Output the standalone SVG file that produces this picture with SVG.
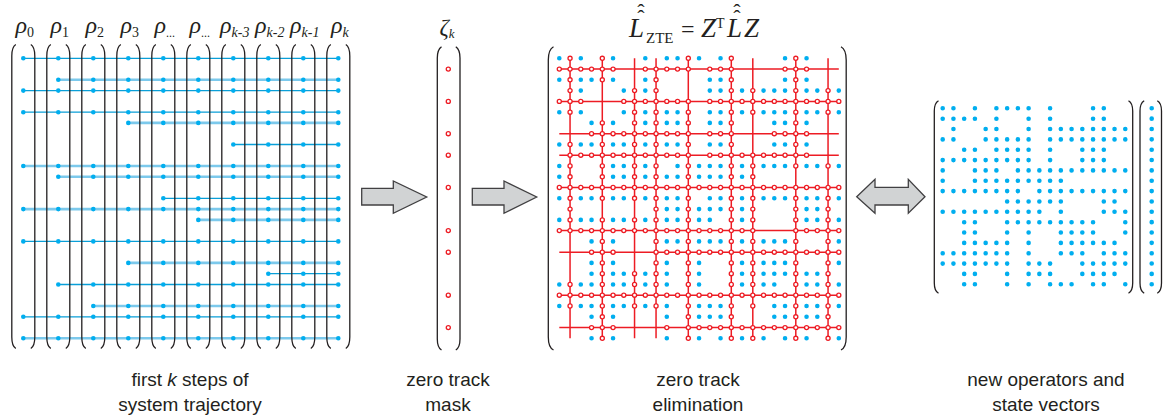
<svg xmlns="http://www.w3.org/2000/svg" width="1163" height="417" viewBox="0 0 1163 417">
<style>
.pa{fill:none;stroke:#231f20;stroke-width:1.3}
.ld{fill:none;stroke:#0a9fd8;stroke-width:1.3}
.ll{fill:none;stroke:#7cc9ec;stroke-width:2.6}
.dL{fill:none;stroke:#00aeef;stroke-width:4.6;stroke-linecap:round;stroke-dasharray:0 35}
.dM{fill:none;stroke:#00aeef;stroke-width:4.6;stroke-linecap:round;stroke-dasharray:0 10.75}
.dR{fill:none;stroke:#00aeef;stroke-width:4.6;stroke-linecap:round;stroke-dasharray:0 10.74}
.dV{fill:none;stroke:#00aeef;stroke-width:4.6;stroke-linecap:round;stroke-dasharray:0 10.35}
.rl{fill:none;stroke:#ed1c24;stroke-width:1.5}
.ro{fill:none;stroke:#ed1c24;stroke-width:5.4;stroke-linecap:round;stroke-dasharray:0 10.75}
.ri{fill:none;stroke:#fff;stroke-width:2.8;stroke-linecap:round;stroke-dasharray:0 10.75}
.ar{fill:#d1d3d4;stroke:#414042;stroke-width:1.3}
.m{font-family:"Liberation Serif","Times New Roman",serif;fill:#231f20}
.lab{font-family:"Liberation Sans",Arial,sans-serif;font-size:19px;fill:#231f20;text-anchor:middle}
</style>
<defs>
<path id="cb" class="pa" d="M-7.5 44.5Q-11.5 47 -11.5 56V337Q-11.5 346 -7.5 348.5M7.5 44.5Q11.5 47 11.5 56V337Q11.5 346 7.5 348.5"/>
<path id="rp" d="M570.05 58.3h.2M602.3 58.3h.2M688.3 58.3h.2M731.3 58.3h.2M795.8 58.3h.2
M559.3 69.1H613.3M645.3 69.1H688.5M709.8 69.1H731.5M785.05 69.1H806.8
M570.05 79.8h.2M602.3 79.8h.2M656.05 79.8h.2M731.3 79.8h.2M795.8 79.8h.2
M570.05 90.6h.2M634.55 90.6h.2M656.05 90.6h.2M731.3 90.6h.2M752.8 90.6h.2M795.8 90.6h.2M828.05 90.6h.2
M559.3 101.4H581M623.8 101.4H688.5M709.8 101.4H839
M570.05 112.2h.2M634.55 112.2h.2M656.05 112.2h.2M688.3 112.2h.2M731.3 112.2h.2M752.8 112.2h.2M795.8 112.2h.2M828.05 112.2h.2
M602.3 122.9h.2M634.55 122.9h.2M656.05 122.9h.2M688.3 122.9h.2M731.3 122.9h.2M795.8 122.9h.2
M591.55 133.7H688.5M709.8 133.7H731.5M774.3 133.7H806.8
M570.05 144.5h.2M602.3 144.5h.2M634.55 144.5h.2M656.05 144.5h.2M688.3 144.5h.2M731.3 144.5h.2M795.8 144.5h.2
M570.05 155.2H688.5M709.8 155.2H806.8
M570.05 166h.2M602.3 166h.2M634.55 166h.2M656.05 166h.2M688.3 166h.2M731.3 166h.2M752.8 166h.2M795.8 166h.2M828.05 166h.2
M570.05 176.8h.2M602.3 176.8h.2M634.55 176.8h.2M656.05 176.8h.2M688.3 176.8h.2M731.3 176.8h.2M752.8 176.8h.2
M559.3 187.5H839
M570.05 198.3h.2M602.3 198.3h.2M634.55 198.3h.2M656.05 198.3h.2M688.3 198.3h.2M731.3 198.3h.2M752.8 198.3h.2M795.8 198.3h.2M828.05 198.3h.2
M570.05 209.1h.2M656.05 209.1h.2M688.3 209.1h.2M731.3 209.1h.2M752.8 209.1h.2M795.8 209.1h.2M828.05 209.1h.2
M570.05 219.9h.2M602.3 219.9h.2M634.55 219.9h.2M656.05 219.9h.2M688.3 219.9h.2M731.3 219.9h.2M752.8 219.9h.2M795.8 219.9h.2M828.05 219.9h.2
M559.3 230.6H753M795.8 230.6H839
M602.3 241.4h.2M656.05 241.4h.2M688.3 241.4h.2M731.3 241.4h.2M752.8 241.4h.2M795.8 241.4h.2M828.05 241.4h.2
M591.55 252.2H613.3M656.05 252.2H839
M602.3 262.9h.2M656.05 262.9h.2M688.3 262.9h.2M731.3 262.9h.2M752.8 262.9h.2M795.8 262.9h.2M828.05 262.9h.2
M602.3 273.7h.2M634.55 273.7h.2M656.05 273.7h.2M688.3 273.7h.2M731.3 273.7h.2M752.8 273.7h.2M795.8 273.7h.2M828.05 273.7h.2
M570.05 284.5h.2M602.3 284.5h.2M634.55 284.5h.2M656.05 284.5h.2M688.3 284.5h.2M731.3 284.5h.2M752.8 284.5h.2M795.8 284.5h.2M828.05 284.5h.2
M559.3 295.2H839
M570.05 306h.2M602.3 306h.2M634.55 306h.2M656.05 306h.2M688.3 306h.2M731.3 306h.2M752.8 306h.2M795.8 306h.2M828.05 306h.2
M602.3 316.8h.2M688.3 316.8h.2M731.3 316.8h.2M795.8 316.8h.2M828.05 316.8h.2
M591.55 327.6H613.3M666.8 327.6h.2M688.3 327.6H839
M602.3 338.3h.2M688.3 338.3h.2M731.3 338.3h.2M752.8 338.3h.2M795.8 338.3h.2M828.05 338.3h.2"/>
<path id="zp" d="M448.3 69.1h.2M448.3 101.4h.2M448.3 133.7h.2M448.3 155.2h.2M448.3 187.5h.2M448.3 230.6h.2M448.3 252.2h.2M448.3 295.2h.2M448.3 327.6h.2"/>
</defs>
<rect width="1163" height="417" fill="#fff"/>

<g id="trajectory">
<path class="ld" d="M23.3 58.3H338.3M23.3 90.6H338.3M23.3 112.2H338.3M233.3 144.5H338.3M163.3 198.3H338.3M23.3 241.4H338.3M268.3 273.7H338.3M58.3 284.5H338.3M23.3 316.8H338.3"/>
<path class="ll" d="M58.3 79.8H338.3M128.3 122.9H338.3M23.3 166H338.3M58.3 176.8H338.3M23.3 209.1H338.3M198.3 219.9H338.3M128.3 262.9H338.3M93.3 306H338.3M23.3 338.3H338.3"/>
<use href="#cb" x="23.3"/><use href="#cb" x="58.3"/><use href="#cb" x="93.3"/><use href="#cb" x="128.3"/><use href="#cb" x="163.3"/><use href="#cb" x="198.3"/><use href="#cb" x="233.3"/><use href="#cb" x="268.3"/><use href="#cb" x="303.3"/><use href="#cb" x="338.3"/>
<path class="dL" d="M23.3 58.3H338.5M58.3 79.8H338.5M23.3 90.6H338.5M23.3 112.2H338.5M128.3 122.9H338.5M233.3 144.5H338.5M23.3 166H338.5M58.3 176.8H338.5M163.3 198.3H338.5M23.3 209.1H338.5M198.3 219.9H338.5M23.3 241.4H338.5M128.3 262.9H338.5M268.3 273.7H338.5M58.3 284.5H338.5M93.3 306H338.5M23.3 316.8H338.5M23.3 338.3H338.5"/>
<g class="m" font-size="24" text-anchor="middle">
<text x="24.8" y="33"><tspan font-style="italic">ρ</tspan><tspan font-size="14" dy="4">0</tspan></text>
<text x="59.8" y="33"><tspan font-style="italic">ρ</tspan><tspan font-size="14" dy="4">1</tspan></text>
<text x="94.8" y="33"><tspan font-style="italic">ρ</tspan><tspan font-size="14" dy="4">2</tspan></text>
<text x="129.8" y="33"><tspan font-style="italic">ρ</tspan><tspan font-size="14" dy="4">3</tspan></text>
<text x="164.8" y="33"><tspan font-style="italic">ρ</tspan><tspan font-size="12" dy="4">...</tspan></text>
<text x="199.8" y="33"><tspan font-style="italic">ρ</tspan><tspan font-size="12" dy="4">...</tspan></text>
<text x="234.8" y="33"><tspan font-style="italic">ρ</tspan><tspan font-size="14" dy="4" font-style="italic">k-3</tspan></text>
<text x="269.8" y="33"><tspan font-style="italic">ρ</tspan><tspan font-size="14" dy="4" font-style="italic">k-2</tspan></text>
<text x="304.8" y="33"><tspan font-style="italic">ρ</tspan><tspan font-size="14" dy="4" font-style="italic">k-1</tspan></text>
<text x="339.8" y="33"><tspan font-style="italic">ρ</tspan><tspan font-size="14" dy="4" font-style="italic">k</tspan></text>
</g>
</g>

<g id="mask">
<path class="pa" d="M441.5 46.7Q437.3 49.5 437.3 58V339Q437.3 347.5 441.5 350M455.8 46.7Q460 49.5 460 58V339Q460 347.5 455.8 350"/>
<use href="#zp" class="ro"/><use href="#zp" class="ri"/>
<text class="m" x="447" y="35" font-size="23" text-anchor="middle"><tspan font-style="italic">ζ</tspan><tspan font-size="13" dy="3" font-style="italic">k</tspan></text>
</g>

<g id="zte">
<path class="pa" d="M553.5 46.7Q548.3 49.5 548.3 60V337Q548.3 347.5 553.5 350M841 46.7Q846.2 49.5 846.2 60V337Q846.2 347.5 841 350"/>
<path class="rl" d="M559.3 69.1H838.8M559.3 101.4H838.8M559.3 133.7H838.8M559.3 155.2H838.8M559.3 187.5H838.8M559.3 230.6H838.8M559.3 252.2H838.8M559.3 295.2H838.8M559.3 327.6H838.8M570.05 58.3V338.3M602.3 58.3V338.3M634.55 58.3V338.3M656.05 58.3V338.3M688.3 58.3V338.3M731.3 58.3V338.3M752.8 58.3V338.3M795.8 58.3V338.3M828.05 58.3V338.3"/>
<path class="dM" d="M559.3 58.3h.2M580.8 58.3h.2M613.05 58.3h.2M645.3 58.3h.2M666.8 58.3H677.8M699.05 58.3h.2M720.55 58.3h.2M785.05 58.3h.2M806.55 58.3h.2
M559.3 79.8h.2M580.8 79.8H591.8M613.05 79.8h.2M645.3 79.8h.2M709.8 79.8H720.8M785.05 79.8h.2M806.55 79.8h.2
M580.8 90.6h.2M623.8 90.6h.2M645.3 90.6h.2M709.8 90.6H720.8M742.05 90.6h.2M763.55 90.6H785.3M806.55 90.6H817.5M838.8 90.6h.2
M559.3 112.2h.2M580.8 112.2h.2M623.8 112.2h.2M645.3 112.2h.2M666.8 112.2H677.8M709.8 112.2H720.8M742.05 112.2h.2M763.55 112.2H785.3M806.55 112.2H817.5M838.8 112.2h.2
M591.55 122.9h.2M613.05 122.9h.2M645.3 122.9h.2M666.8 122.9H677.8M709.8 122.9H720.8M774.3 122.9H785.3M806.55 122.9h.2
M559.3 144.5h.2M580.8 144.5H591.8M613.05 144.5H624M645.3 144.5h.2M666.8 144.5H677.8M709.8 144.5H720.8M774.3 144.5H785.3M806.55 144.5h.2
M559.3 166h.2M613.05 166H624M645.3 166h.2M677.55 166h.2M699.05 166H720.8M742.05 166h.2M763.55 166H785.3M806.55 166H817.5M838.8 166h.2
M559.3 176.8h.2M613.05 176.8H624M645.3 176.8h.2M666.8 176.8H677.8M699.05 176.8H720.8M742.05 176.8h.2
M559.3 198.3h.2M580.8 198.3H591.8M613.05 198.3H624M645.3 198.3h.2M666.8 198.3H677.8M709.8 198.3H720.8M742.05 198.3h.2M763.55 198.3H785.3M806.55 198.3H817.5M838.8 198.3h.2
M666.8 209.1H677.8M699.05 209.1H720.8M742.05 209.1h.2M806.55 209.1H817.5
M559.3 219.9h.2M580.8 219.9H591.8M613.05 219.9H624M645.3 219.9h.2M666.8 219.9H677.8M699.05 219.9H710M742.05 219.9h.2M806.55 219.9H817.5M838.8 219.9h.2
M591.55 241.4h.2M613.05 241.4h.2M666.8 241.4H677.8M699.05 241.4H720.8M742.05 241.4h.2M763.55 241.4H785.3M838.8 241.4h.2
M591.55 262.9h.2M613.05 262.9h.2M666.8 262.9h.2M699.05 262.9h.2M742.05 262.9h.2M763.55 262.9H785.3M838.8 262.9h.2
M591.55 273.7h.2M613.05 273.7H624M645.3 273.7h.2M666.8 273.7h.2M699.05 273.7h.2M742.05 273.7h.2M763.55 273.7H785.3M806.55 273.7H817.5
M559.3 284.5h.2M580.8 284.5H591.8M613.05 284.5H624M645.3 284.5h.2M666.8 284.5h.2M699.05 284.5h.2M742.05 284.5h.2M763.55 284.5H774.5M806.55 284.5H817.5M838.8 284.5h.2
M559.3 306h.2M580.8 306H591.8M613.05 306H624M645.3 306h.2M666.8 306h.2M699.05 306H720.8M774.3 306H785.3M806.55 306H817.5M838.8 306h.2
M591.55 316.8h.2M613.05 316.8h.2M666.8 316.8h.2M699.05 316.8H720.8M774.3 316.8H785.3M806.55 316.8H817.5
M591.55 338.3h.2M613.05 338.3h.2M666.8 338.3h.2M699.05 338.3h.2M720.55 338.3h.2M742.05 338.3h.2M763.55 338.3h.2M785.05 338.3h.2M806.55 338.3h.2M838.8 338.3h.2"/>
<use href="#rp" class="ro"/><use href="#rp" class="ri"/>
<text class="m" y="37" font-size="27"><tspan x="641" y="19" font-size="22" text-anchor="middle">ˆ</tspan><tspan x="641" y="25" font-size="22" text-anchor="middle">ˆ</tspan><tspan x="737" y="19" font-size="22" text-anchor="middle">ˆ</tspan><tspan x="737" y="25" font-size="22" text-anchor="middle">ˆ</tspan><tspan x="629" y="37" font-style="italic">L</tspan><tspan x="646" y="43" font-size="15">ZTE</tspan><tspan x="681" y="37" font-size="24">=</tspan><tspan x="701" y="37" font-style="italic">Z</tspan><tspan x="716" y="28" font-size="14">T</tspan><tspan x="727" y="37" font-style="italic">L</tspan><tspan x="744" y="37" font-style="italic">Z</tspan></text>
</g>

<g id="reduced">
<path class="pa" d="M938.5 100.7Q934.3 103 934.3 111V283Q934.3 291 938.5 293.3M1128.5 100.7Q1132.7 103 1132.7 111V283Q1132.7 291 1128.5 293.3"/>
<path class="dR" d="M942.7 108.3H953.6M974.92 108.3h.2M996.4 108.3H1028.8M1050.1 108.3h.2M1093.06 108.3H1104
M942.7 118.7H975.1M996.4 118.7h.2M1028.62 118.7h.2M1050.1 118.7h.2M1093.06 118.7H1104
M953.44 129h.2M985.66 129H996.6M1028.62 129h.2M1050.1 129H1125.5
M942.7 139.4H953.6M985.66 139.4H1028.8M1050.1 139.4H1125.5
M964.18 149.7H975.1M996.4 149.7H1028.8M1050.1 149.7h.2M1082.32 149.7H1104
M942.7 160.1H1028.8M1050.1 160.1h.2M1082.32 160.1H1104
M942.7 170.4h.2M974.92 170.4H996.6M1017.88 170.4H1125.5
M942.7 180.8h.2M974.92 180.8H1061
M942.7 191.1H1018.1M1039.36 191.1H1125.5
M1007.14 201.5H1061M1103.8 201.5H1114.7
M942.7 211.8H1039.6M1060.84 211.8h.2M1103.8 211.8H1125.5
M964.18 222.2H975.1M1007.14 222.2H1093.3M1125.28 222.2h.2
M964.18 232.5H975.1M1007.14 232.5h.2M1028.62 232.5h.2M1060.84 232.5H1093.3M1125.28 232.5h.2
M964.18 242.9H1007.3M1028.62 242.9h.2M1060.84 242.9H1114.7
M942.7 253.2H1007.3M1028.62 253.2h.2M1060.84 253.2H1082.5M1103.8 253.2H1125.5
M942.7 263.6H1007.3M1028.62 263.6H1050.3M1082.32 263.6H1125.5
M964.18 273.9H975.1M1007.14 273.9h.2M1028.62 273.9H1050.3M1082.32 273.9H1114.7
M964.18 284.3H975.1M1007.14 284.3h.2M1028.62 284.3h.2M1050.1 284.3H1071.8M1093.06 284.3H1104M1125.28 284.3h.2"/>
</g>

<g id="state-vector">
<path class="pa" d="M1144.2 100.7Q1140 103 1140 111V283Q1140 291 1144.2 293.3M1157.3 100.7Q1161.5 103 1161.5 111V283Q1161.5 291 1157.3 293.3"/>
<path class="dV" d="M1151.7 108.3V284.5"/>
</g>

<g id="connectors">
<path class="ar" d="M361.7 188.3H393.3V181L426.7 197L393.3 213.3V205H361.7Z"/>
<path class="ar" d="M472.3 188.3H504V181L536.7 197L504 213.3V205H472.3Z"/>
<path class="ar" d="M856.7 196.7L875 179.3V187.3H908.3V179.3L925 196.7L908.3 213.3V205H875V213.3Z"/>
</g>

<g id="labels" class="lab">
<text x="190" y="386">first <tspan font-style="italic">k</tspan> steps of</text>
<text x="190" y="411">system trajectory</text>
<text x="448" y="386">zero track</text>
<text x="448" y="411">mask</text>
<text x="698" y="386">zero track</text>
<text x="698" y="411">elimination</text>
<text x="1046" y="386">new operators and</text>
<text x="1046" y="411">state vectors</text>
</g>
</svg>
